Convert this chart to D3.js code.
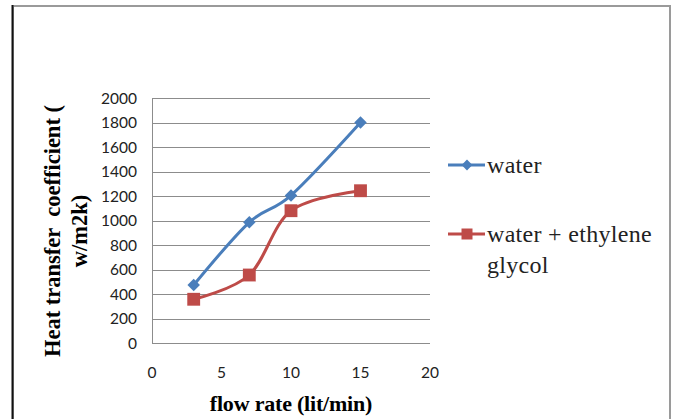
<!DOCTYPE html>
<html>
<head>
<meta charset="utf-8">
<script src="https://cdn.jsdelivr.net/npm/d3@7"></script>
<style>
  body { margin: 0; background: #fff; }
  svg { display: block; }
</style>
</head>
<body>
<div id="chart"></div>
<script>
// flow rate (lit/min) vs heat transfer coefficient
const flowRates = [3, 7, 10, 15];
const waterValues = [473, 985, 1205, 1800];
const glycolValues = [357, 555, 1080, 1243];
const seriesNames = ['water', 'water + ethylene glycol'];
const xTicks = [0, 5, 10, 15, 20];
const yTicks = [0, 200, 400, 600, 800, 1000, 1200, 1400, 1600, 1800, 2000];

const width = 675, height = 419;
const svg = d3.select('#chart').append('svg')
    .attr('width', width)
    .attr('height', height);

// outer frame
svg.append('rect')
    .attr('x', 13).attr('y', 6)
    .attr('width', 657).attr('height', 430)
    .attr('fill', 'none')
    .attr('stroke', '#9a9a9a')
    .attr('stroke-width', 2);
svg.append('line')
    .attr('x1', 12.5).attr('x2', 12.5)
    .attr('y1', 5).attr('y2', height)
    .attr('stroke', '#111')
    .attr('stroke-width', 2);

const x = d3.scaleLinear().domain([0, 20]).range([152, 430]);
const y = d3.scaleLinear().domain([0, 2000]).range([343, 98]);

// gridlines
svg.append('g')
    .selectAll('line')
    .data(yTicks)
    .join('line')
    .attr('x1', x(0)).attr('x2', x(20))
    .attr('y1', d => Math.round(y(d)) + 0.5)
    .attr('y2', d => Math.round(y(d)) + 0.5)
    .attr('stroke', '#8c8c8c')
    .attr('stroke-width', 1);

svg.append('line')
    .attr('x1', x(0) + 0.5).attr('x2', x(0) + 0.5)
    .attr('y1', y(2000)).attr('y2', y(0))
    .attr('stroke', '#8c8c8c');

// tick labels
svg.append('g')
    .selectAll('text')
    .data(yTicks)
    .join('text')
    .attr('x', 137)
    .attr('y', d => y(d) + 5.5)
    .attr('text-anchor', 'end')
    .style('font-family', 'Lato, "Open Sans", sans-serif')
    .style('font-size', '15.5px')
    .attr('fill', '#222')
    .text(d => d);

svg.append('g')
    .selectAll('text')
    .data(xTicks)
    .join('text')
    .attr('x', d => x(d))
    .attr('y', 378)
    .attr('text-anchor', 'middle')
    .style('font-family', 'Lato, "Open Sans", sans-serif')
    .style('font-size', '15.5px')
    .attr('fill', '#222')
    .text(d => d);

// axis titles
const serif = '"Liberation Serif", "Times New Roman", serif';
svg.append('text')
    .attr('x', 291).attr('y', 411)
    .attr('text-anchor', 'middle')
    .style('font-family', serif)
    .style('font-weight', 'bold')
    .style('font-size', '22px')
    .style('letter-spacing', '-0.2px')
    .text('flow rate (lit/min)');

const yTitle = svg.append('text')
    .attr('transform', 'translate(0,231) rotate(-90)')
    .attr('text-anchor', 'middle')
    .style('font-family', serif)
    .style('font-weight', 'bold')
    .style('font-size', '22.5px')
    .style('white-space', 'pre');
yTitle.append('tspan').attr('x', 0).attr('y', 60).text('Heat transfer  coefficient (');
yTitle.append('tspan').attr('x', 0).attr('y', 87).text('w/m2k)');

// series
const series = [
    { name: seriesNames[0], values: waterValues, color: '#4a7ebb', marker: d3.symbolSquare, rot: 45, size: 78, legendSize: 58 },
    { name: seriesNames[1], values: glycolValues, color: '#be4b48', marker: d3.symbolSquare, rot: 0, size: 165, legendSize: 121 }
];

// excel-style smoothing
const line = d3.line()
    .x((d, i) => x(flowRates[i]))
    .y(d => y(d))
    .curve(d3.curveCardinal.tension(0));

series.forEach(s => {
    svg.append('path')
        .attr('d', line(s.values))
        .attr('fill', 'none')
        .attr('stroke', s.color)
        .attr('stroke-width', 3);
    svg.append('g')
        .selectAll('path')
        .data(s.values)
        .join('path')
        .attr('transform', (d, i) => `translate(${x(flowRates[i])},${y(d)}) rotate(${s.rot})`)
        .attr('d', d3.symbol().type(s.marker).size(s.size))
        .attr('fill', s.color);
});

// legend
const legendY = [165, 234];
series.forEach((s, i) => {
    const g = svg.append('g').attr('transform', `translate(448,${legendY[i]})`);
    g.append('line')
        .attr('x1', 0).attr('x2', 37)
        .attr('stroke', s.color)
        .attr('stroke-width', 3);
    g.append('path')
        .attr('transform', `translate(19,0) rotate(${s.rot})`)
        .attr('d', d3.symbol().type(s.marker).size(s.legendSize))
        .attr('fill', s.color);
});
const legendFont = g => g
    .style('font-family', serif)
    .style('font-size', '24px')
    .style('letter-spacing', '0.3px')
    .attr('fill', '#222');
svg.append('text').attr('x', 487).attr('y', 173).call(legendFont).text('water');
svg.append('text').attr('x', 487).attr('y', 242).call(legendFont).text('water + ethylene');
svg.append('text').attr('x', 487).attr('y', 273).call(legendFont).text('glycol');
</script>
</body>
</html>
